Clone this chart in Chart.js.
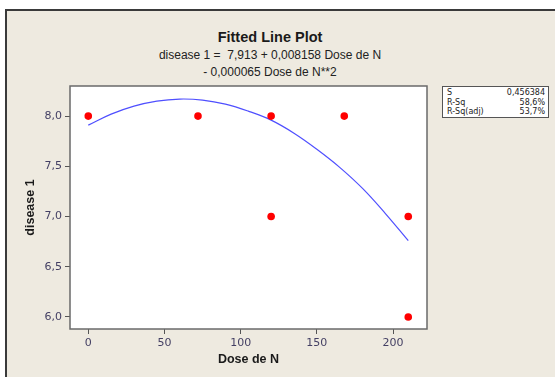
<!DOCTYPE html>
<html>
<head>
<meta charset="utf-8">
<script src="https://cdn.jsdelivr.net/npm/chart.js@4"></script>
<style>
  html, body { margin:0; padding:0; background:#fff; }
  #wrap { position:relative; width:555px; height:377px; overflow:hidden; }
  #frame { position:absolute; left:5px; top:9px; width:560px; height:380px;
           background:#EEEAE0; border-left:2px solid #3a3a3a; border-top:2px solid #3a3a3a; }
  #title { position:absolute; left:0; width:540px; top:29px; text-align:center;
           font:bold 14.5px "Liberation Sans", Arial, sans-serif; color:#1a1a1a; }
  .sub { position:absolute; left:0; width:540px; text-align:center;
         font:12px "Liberation Sans", Arial, sans-serif; color:#222; white-space:pre; }
  #stats { position:absolute; left:442px; top:86px; width:105px; height:29px; padding-top:1px;
           border:1px solid #555; background:#fff; font:8px "DejaVu Sans", sans-serif; color:#222; }
  #stats div { position:relative; height:9.5px; line-height:9.5px; padding:0 2px 0 4px; }
  #stats span.v { position:absolute; right:3px; }
  canvas { position:absolute; left:0; top:0; }
</style>
</head>
<body>
<div id="wrap">
  <div id="frame"></div>
  <div id="title">Fitted Line Plot</div>
  <div class="sub" style="top:48px">disease 1 =  7,913 + 0,008158 Dose de N</div>
  <div class="sub" style="top:65px">- 0,000065 Dose de N**2</div>
  <div id="stats"></div>
  <canvas id="c" width="555" height="377"></canvas>
</div>
<script>
/* ---------- data ---------- */
const doseN    = [0, 72, 120, 120, 168, 210, 210];
const disease1 = [8, 8, 8, 7, 8, 7, 6];

// fitted curve
const fitX = [0, 15, 30, 45, 60, 75, 90, 105, 120, 135, 150, 165, 180, 195, 210];
const fitY = [7.91, 8.02, 8.10, 8.15, 8.17, 8.16, 8.12, 8.05, 7.96, 7.83, 7.67, 7.49, 7.28, 7.03, 6.76];

const xTicks = [0, 50, 100, 150, 200];
const yTicks = [6.0, 6.5, 7.0, 7.5, 8.0];

const statLabels = ['S', 'R-Sq', 'R-Sq(adj)'];
const statValues = ['0,456384', '58,6%', '53,7%'];

/* ---------- stats box ---------- */
document.getElementById('stats').innerHTML = statLabels.map((l, i) =>
  `<div>${l}<span class="v">${statValues[i]}</span></div>`).join('');

/* ---------- plot frame ---------- */
const framePlugin = {
  id: 'frame',
  beforeDraw(chart){
    const { ctx, chartArea:a } = chart;
    ctx.save();
    ctx.fillStyle = '#fff';
    ctx.fillRect(a.left, a.top, a.right - a.left, a.bottom - a.top);
    ctx.restore();
  },
  afterDraw(chart){
    const { ctx, chartArea:a } = chart;
    ctx.save();
    ctx.strokeStyle = '#6a6a6a';
    ctx.lineWidth = 1.5;
    ctx.strokeRect(a.left, a.top, a.right - a.left, a.bottom - a.top);
    ctx.restore();
  }
};

const tickColor = '#433f63';
const tickFont = { family:'"DejaVu Sans", sans-serif', size:11 };
const fmt = v => v.toFixed(1).replace('.', ',');

new Chart(document.getElementById('c'), {
  type:'scatter',
  data:{
    datasets:[
      {
        type:'line',
        data: fitX.map((x, i) => ({ x, y: fitY[i] })),
        borderColor:'#4f4fff', borderWidth:1.2,
        pointRadius:0, tension:0.4, fill:false, order:2
      },
      {
        data: doseN.map((x, i) => ({ x, y: disease1[i] })),
        backgroundColor:'#ff0000', borderColor:'#ff0000',
        pointRadius:3.8, pointBorderWidth:0, order:1
      }
    ]
  },
  options:{
    responsive:false,
    animation:false,
    layout:{ padding:{ top:86, right:128, left:0, bottom:0 } },
    plugins:{ legend:{ display:false }, tooltip:{ enabled:false } },
    scales:{
      x:{
        type:'linear', min:-12, max:222.3,
        afterBuildTicks:(s) => { s.ticks = xTicks.map(v => ({ value:v })); },
        afterFit:(s) => { s.height = 48; },
        grid:{ drawOnChartArea:false, tickLength:5, color:'#555' },
        border:{ display:false },
        ticks:{ color:tickColor, font:tickFont, padding:3 },
        title:{ display:true, text:'Dose de N', color:'#1a1a1a',
                font:{ family:'"Liberation Sans", Arial, sans-serif', size:12.5, weight:'bold' },
                padding:{ top:0, bottom:10 } }
      },
      y:{
        min:5.88, max:8.30,
        afterBuildTicks:(s) => { s.ticks = yTicks.map(v => ({ value:v })); },
        afterFit:(s) => { s.width = 70; },
        grid:{ drawOnChartArea:false, tickLength:5, color:'#555' },
        border:{ display:false },
        ticks:{ color:tickColor, font:tickFont, padding:3, callback:(v) => fmt(v) },
        title:{ display:true, text:'disease 1', color:'#1a1a1a',
                font:{ family:'"Liberation Sans", Arial, sans-serif', size:12.5, weight:'bold' },
                padding:{ top:23, bottom:0 } }
      }
    }
  },
  plugins:[framePlugin]
});
</script>
</body>
</html>
